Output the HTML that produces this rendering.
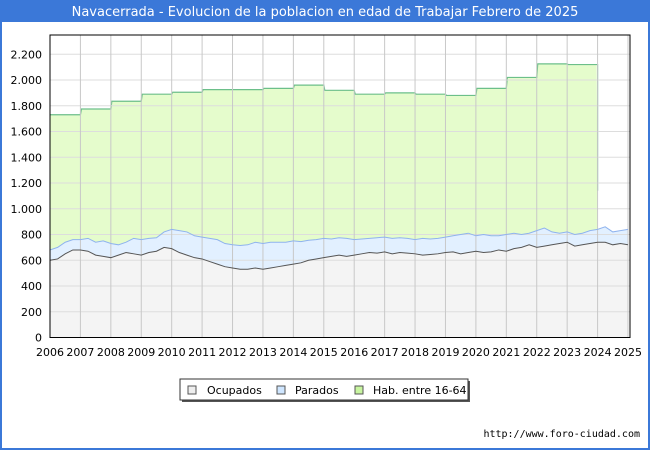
<!DOCTYPE html>
<html><head><meta charset="utf-8"><style>
body{margin:0;width:650px;height:450px;overflow:hidden;background:#fff;font-family:"Liberation Sans","DejaVu Sans",sans-serif;}
</style></head><body>
<svg id="c" width="650" height="450" xmlns="http://www.w3.org/2000/svg">
<rect x="0" y="0" width="650" height="450" fill="#3b78d8"/>
<rect x="2" y="22" width="646" height="426" fill="#fff"/>
<text x="325" y="16" text-anchor="middle" fill="#fff" font-size="13" font-family="DejaVu Sans, sans-serif">Navacerrada - Evolucion de la poblacion en edad de Trabajar Febrero de 2025</text>
<g id="plot"></g>
<g>
<rect x="182" y="381" width="288" height="21" fill="#555"/>
<rect x="180" y="379" width="288" height="21" fill="#fff" stroke="#333"/>
<rect x="188" y="386" width="8" height="8" fill="#eee" stroke="#555"/>
<text x="207" y="394" font-size="11" font-family="DejaVu Sans, sans-serif">Ocupados</text>
<rect x="277" y="386" width="8" height="8" fill="#cfe6ff" stroke="#555"/>
<text x="295" y="394" font-size="11" font-family="DejaVu Sans, sans-serif">Parados</text>
<rect x="355" y="386" width="8" height="8" fill="#c8f5a0" stroke="#555"/>
<text x="373" y="394" font-size="11" font-family="DejaVu Sans, sans-serif">Hab. entre 16-64</text>
</g>
<text x="640" y="437" text-anchor="end" font-size="10" font-family="DejaVu Sans Mono, monospace">http://www.foro-ciudad.com</text>
</svg>
<script>
const yTicks=[0,200,400,600,800,1000,1200,1400,1600,1800,2000,2200];
const yLabels=["0","200","400","600","800","1.000","1.200","1.400","1.600","1.800","2.000","2.200"];
const years=[2006,2007,2008,2009,2010,2011,2012,2013,2014,2015,2016,2017,2018,2019,2020,2021,2022,2023,2024,2025];
const habYears=[2006,2007,2008,2009,2010,2011,2012,2013,2014,2015,2016,2017,2018,2019,2020,2021,2022,2023];
const habValues=[1730,1775,1835,1890,1905,1925,1925,1935,1960,1920,1890,1900,1890,1880,1935,2020,2125,2120];
const habLast=1140;
// quarterly points from 2006.0 to 2025.0
const parados=[680,700,740,760,760,770,740,750,730,720,740,770,760,770,775,820,840,830,820,790,780,770,760,730,720,715,720,740,730,740,740,740,750,745,755,760,770,765,775,770,760,765,770,775,780,770,775,770,760,770,765,770,780,790,800,810,790,800,790,790,800,810,800,810,830,850,820,810,820,800,810,830,840,860,820,830,840];
const ocupados=[600,610,650,680,680,670,640,630,620,640,660,650,640,660,670,700,690,660,640,620,610,590,570,550,540,530,530,540,530,540,550,560,570,580,600,610,620,630,640,630,640,650,660,655,665,650,660,655,650,640,645,650,660,665,650,660,670,660,665,680,670,690,700,720,700,710,720,730,740,710,720,730,740,740,720,730,720];
const X0=50,X1=628,Y0=337.5,YS=25.75/200;
const x=v=>X0+(v-2006)/(2025-2006)*(X1-X0);
const y=v=>Y0-v*YS;
const xq=i=>x(2006+i*0.25);
const NS="http://www.w3.org/2000/svg";
const g=document.getElementById('plot');
function mk(t,a){const e=document.createElementNS(NS,t);for(const k in a)e.setAttribute(k,a[k]);g.appendChild(e);return e;}
const bg=mk('rect',{x:X0,y:35,width:630-X0,height:Y0-35,fill:'#fff'});


// hab area
let hp=`M${x(2006)},${Y0}`;
habValues.forEach((v,i)=>{hp+=` L${x(habYears[i])},${y(v)} L${x(habYears[i]+1)-1},${y(v)}`;});
hp+=` L${x(2024)},${y(habLast)} L${x(2024)},${Y0} Z`;
const ha=mk('path',{d:hp,fill:'#e5fccc',stroke:'none'});


let hl=`M${x(2006)},${y(habValues[0])}`;
habValues.forEach((v,i)=>{hl+=` L${x(habYears[i])+1},${y(v)} L${x(habYears[i]+1)},${y(v)}`;});
hl+=` L${x(2024)},${y(habLast)}`;
const hline=mk('path',{d:hl,fill:'none',stroke:'#6cbf8a','stroke-width':1.2});


// parados area
let pp=parados.map((v,i)=>`${i?'L':'M'}${xq(i)},${y(v)}`).join(' ');
const pa=mk('path',{d:pp+` L${xq(parados.length-1)},${Y0} L${X0},${Y0} Z`,fill:'#e2f0ff'});


const oc=ocupados.map((v,i)=>`${i?'L':'M'}${xq(i)},${y(v)}`).join(' ');
const oa=mk('path',{d:oc+` L${xq(ocupados.length-1)},${Y0} L${X0},${Y0} Z`,fill:'#f4f4f4'});


// grid
yTicks.forEach((v,i)=>{
 if(v>0){const l=mk('line',{x1:X0,x2:630,y1:y(v),y2:y(v),stroke:'#ddd','stroke-width':1});
 
 }
 const t=mk('text',{x:42,y:y(v)+4,'text-anchor':'end','font-size':11,'font-family':'DejaVu Sans, sans-serif'});
 t.textContent=yLabels[i];
 
 
});
years.forEach(v=>{
 if(v>2006){const l=mk('line',{x1:x(v),x2:x(v),y1:35,y2:Y0,stroke:'#c8c8c8','stroke-width':1});
 
 }
 const t=mk('text',{x:x(v),y:356,'text-anchor':'middle','font-size':11,'font-family':'DejaVu Sans, sans-serif'});
 t.textContent=v;
 
 
});
const pl=mk('path',{d:pp,fill:'none',stroke:'#8fb3ee','stroke-width':1});


const ol=mk('path',{d:oc,fill:'none',stroke:'#555','stroke-width':1});


const ax=mk('path',{d:`M${X0},35 L630,35 L630,${Y0} L${X0},${Y0} Z`,fill:'none',stroke:'#000','stroke-width':1});


</script>
</body></html>
